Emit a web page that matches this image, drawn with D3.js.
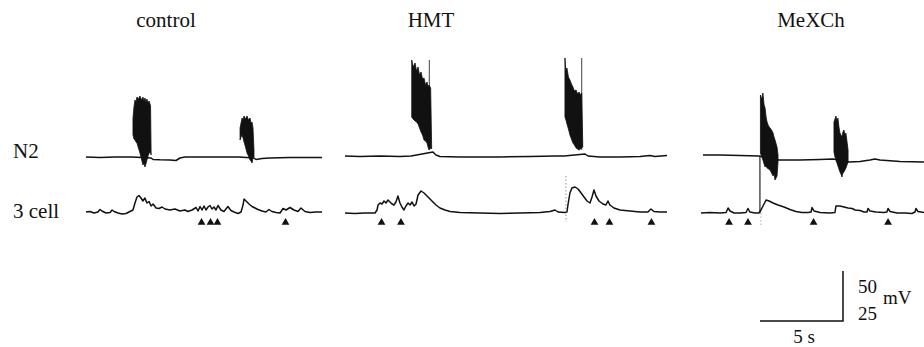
<!DOCTYPE html>
<html><head><meta charset="utf-8">
<script src="https://cdn.jsdelivr.net/npm/d3@7"></script>
<style>html,body{margin:0;padding:0;background:#fff;}svg{display:block;} text{font-family:"Liberation Serif","DejaVu Serif","Times New Roman",serif;}</style>
</head><body><svg id="c" width="924" height="347"></svg>
<script>
// ---------- DATA (time in s, voltage in mV relative to row baseline) ----------
const conditions = ["control", "HMT", "MeXCh"];
const rowLabels = ["N2", "3 cell"];
const scaleBarSeconds = 5;
const scaleBarMV = ["50", "25"];   // N2 , 3 cell

// N2 traces [t, mV]
const n2Control = [[0,0],[0.84,-0.5],[1.75,0],[2.77,0],[3.92,-1],[4.04,-2.5],[4.46,-2.8],[5.06,-3],[5.42,-3.5],[5.66,-1],[5.96,0],[6.87,0],[8.07,0],[9.22,0],[10.12,-1],[10.24,-2.5],[10.60,-1.5],[11.08,-1],[12.29,-0.5],[14.22,-0.5]];
const n2HMT = [[0,1],[0.90,0.5],[2.11,1],[3.31,0.5],[3.98,1],[5.30,5],[5.48,2],[5.72,0.5],[6.93,0],[9.34,0],[11.14,0.5],[12.65,1],[13.19,1],[14.46,3],[14.64,1],[15.36,0],[16.57,0],[17.77,0.5],[18.37,1.5],[18.67,0.5],[19.40,1.5]];
const n2MeXCh = [[0.12,2],[1.14,2],[2.35,1.5],[3.49,1],[4.70,-3],[5.96,-3],[7.17,-2.5],[7.95,-2],[8.92,-5],[9.58,-4.5],[10.18,-3],[10.48,-2],[10.78,-3],[11.99,-4.5],[13.43,-5]];

// N2 bursts: [t, upper envelope mV, lower envelope mV]
const burstControl1 = [[2.83,39,22],[2.89,50,18],[2.95,57,17],[3.01,55,15],[3.07,60,14],[3.16,58,9],[3.25,61,4],[3.34,57,-2],[3.43,60,-8],[3.49,56,-6],[3.55,59,-10],[3.61,55,-7],[3.67,58,-3],[3.74,54,1],[3.80,56,4],[3.89,51,5],[3.92,7,2]];
const burstControl2 = [[9.28,29,17],[9.34,34,20],[9.40,39,22],[9.46,37,19],[9.52,41,15],[9.61,38,10],[9.70,41,4],[9.79,37,1],[9.88,39,-3],[9.94,34,-4],[10.00,35,-6],[10.06,29,-1],[10.12,7,0]];
const burstHMT1 = [[4.02,97,40],[4.10,90,38],[4.22,94,36],[4.31,86,35],[4.40,90,33],[4.49,82,29],[4.58,85,25],[4.67,78,22],[4.76,79,17],[4.85,72,16],[4.94,75,14],[5.00,70,10],[5.06,72,7],[5.16,69,9],[5.22,10,8]];
const burstHMT2 = [[13.25,99,40],[13.31,86,37],[13.37,89,33],[13.46,80,28],[13.55,77,22],[13.64,73,18],[13.73,70,14],[13.82,66,12],[13.92,67,9],[14.01,63,8],[14.10,65,7],[14.18,62,8],[14.26,64,9],[14.32,14,10]];
const burstMeXCh1 = [[3.58,62,4],[3.66,58,0],[3.73,64,-3],[3.80,52,-7],[3.86,49,-10],[3.92,40,-9],[3.98,35,-11],[4.07,31,-12],[4.16,29,-13],[4.25,27,-16],[4.34,24,-19],[4.40,20,-17],[4.46,17,-23],[4.58,10,-19],[4.64,2,-5]];
const burstMeXCh2 = [[8.01,35,5],[8.07,38,0],[8.13,41,-3],[8.19,36,-6],[8.25,39,-9],[8.31,30,-12],[8.37,24,-15],[8.43,22,-17],[8.49,20,-20],[8.55,25,-16],[8.61,27,-15],[8.67,22,-13],[8.73,24,-11],[8.86,7,-5]];
// single tall spikes at burst ends [t, from mV, to mV]
const spikesHMT = [[5.08,97,10],[14.26,99,7]];

// 3 cell traces [t, mV]
const cellControl = [[0,0.5],[0.24,0.75],[0.48,0],[0.72,0.5],[0.84,1.75],[0.96,1],[1.20,0],[1.45,0.25],[1.57,1.5],[1.69,0.75],[1.93,0],[2.17,-0.5],[2.41,-0.25],[2.65,0.75],[2.83,1.5],[2.95,5],[3.07,8],[3.19,8.75],[3.31,7.5],[3.43,6],[3.55,7.5],[3.67,5],[3.80,5.75],[3.92,3.5],[4.04,4.5],[4.22,2.5],[4.40,2.25],[4.58,3],[4.76,2],[5.06,1.5],[5.36,2],[5.66,1],[5.96,1.5],[6.14,0.75],[6.39,1.5],[6.63,2.75],[6.75,1],[6.87,3.25],[6.99,1.5],[7.11,3.5],[7.23,1.5],[7.35,3],[7.47,3.75],[7.59,2],[7.71,3],[7.83,1.5],[7.95,3.75],[8.13,1.5],[8.31,0.75],[8.43,2],[8.55,3.25],[8.73,1.25],[8.92,0.5],[9.16,-0.25],[9.34,0.5],[9.46,4],[9.52,7],[9.64,6],[9.82,4.5],[10.00,3.25],[10.18,2.5],[10.36,1.75],[10.60,1],[10.84,0.5],[11.02,1.75],[11.20,0.75],[11.45,0.25],[11.69,0],[11.87,2.25],[12.05,1.5],[12.29,2.75],[12.53,1.5],[12.77,0.75],[12.95,2.5],[13.19,0.75],[13.49,0.25],[13.86,0.5],[14.22,0.5]];
const cellHMT = [[0,0],[0.60,-0.25],[1.20,0],[1.81,0],[1.93,1.5],[1.99,4],[2.11,5],[2.23,4.5],[2.35,6],[2.47,5],[2.59,6.5],[2.71,5.5],[2.83,4.5],[2.95,4],[3.07,5.5],[3.19,8.5],[3.31,5],[3.43,3],[3.55,1.5],[3.67,3.5],[3.80,5],[3.92,4],[4.04,5.5],[4.16,3.5],[4.28,4.5],[4.40,9],[4.58,11],[4.76,10],[5.00,8],[5.24,6],[5.48,4],[5.72,2.5],[6.02,1.5],[6.33,0.75],[6.93,0.25],[8.13,0],[9.34,-0.25],[10.54,0],[11.75,0.25],[12.35,0.75],[12.65,1.5],[12.83,0.5],[13.25,0.25],[13.37,0.5],[13.43,4],[13.55,10],[13.67,12.5],[13.86,13],[14.04,12],[14.22,10],[14.40,8],[14.58,6],[14.76,5],[14.88,8],[15.00,11.5],[15.12,8.5],[15.30,6],[15.54,4.5],[15.72,4],[15.84,6],[15.96,4],[16.20,2.5],[16.57,1.5],[17.17,1],[17.77,0.5],[18.25,0.5],[18.43,2],[18.61,0.75],[18.98,0.5],[19.40,0.5]];
const cellMeXCh = [[0,0],[0.54,0.25],[1.14,0],[1.51,0.25],[1.63,2.5],[1.75,1],[1.99,0],[2.35,0],[2.71,0.25],[2.83,2.25],[2.95,0.5],[3.25,0],[3.49,0],[3.61,1.5],[3.80,4.5],[3.92,6.5],[4.10,6],[4.34,5],[4.64,4],[5.00,3],[5.36,1.75],[5.72,0.75],[6.08,0.25],[6.45,0.25],[6.63,0.5],[6.69,2.75],[6.81,1],[7.17,0.25],[7.77,0],[8.07,0.25],[8.13,3.5],[8.37,3.5],[8.61,3],[8.86,2.5],[9.10,2.25],[9.28,1.5],[9.58,1.25],[9.82,0.5],[10.00,0.5],[10.06,2.25],[10.18,1],[10.54,0.5],[11.02,0.25],[11.20,0.5],[11.27,2.25],[11.39,0.75],[11.81,0],[12.29,0],[12.71,-0.25],[12.89,0.5],[12.95,2.25],[13.07,0.75],[13.43,0.25]];

// arrowheads (times of marked 3-cell events, s)
const arrowsControl = [6.96, 7.50, 7.92, 12.02];
const arrowsHMT = [2.20, 3.37, 15.03, 15.93, 18.46];
const arrowsMeXCh = [1.69, 2.83, 6.78, 11.27];

// stimulus artefacts
const artefactMeXCh = [3.55];          // N2 -> 3 cell vertical line
const dottedHMT = [[13.31, 18.5, -4.5]]; // 3 cell row, dotted

// ---------- LAYOUT ----------
const pxPerSec = 16.6;
const panels = [
  {name: conditions[0], x0: 86,  dur: 14.22, n2: n2Control, cell: cellControl, bursts: [burstControl1, burstControl2], spikes: [], arrows: arrowsControl, titleX: 166},
  {name: conditions[1], x0: 345, dur: 19.40, n2: n2HMT, cell: cellHMT, bursts: [burstHMT1, burstHMT2], spikes: spikesHMT, arrows: arrowsHMT, titleX: 431},
  {name: conditions[2], x0: 701, dur: 13.43, n2: n2MeXCh, cell: cellMeXCh, bursts: [burstMeXCh1, burstMeXCh2], spikes: [], arrows: arrowsMeXCh, titleX: 811}
];
const n2Y = d3.scaleLinear().domain([0, 50]).range([157, 107]);
const cellY = d3.scaleLinear().domain([0, 25]).range([213, 163]);

const svg = d3.select("#c");
const ink = "#111";

panels.forEach((p, i) => {
  const x = d3.scaleLinear().domain([0, p.dur]).range([p.x0, p.x0 + p.dur * pxPerSec]);
  const g = svg.append("g");
  g.append("text").attr("x", p.titleX).attr("y", 27).attr("text-anchor", "middle")
    .attr("font-size", 21).attr("fill", ink).text(p.name);

  const lineN2 = d3.line().x(d => x(d[0])).y(d => n2Y(d[1]));
  const lineCell = d3.line().x(d => x(d[0])).y(d => cellY(d[1]));
  const area = d3.area().x(d => x(d[0])).y0(d => n2Y(d[2])).y1(d => n2Y(d[1]));

  g.append("path").attr("d", lineN2(p.n2)).attr("fill", "none").attr("stroke", ink).attr("stroke-width", 1.5).attr("stroke-linejoin", "round");
  p.bursts.forEach(b => {
    g.append("path").attr("d", area(b)).attr("fill", ink).attr("stroke", ink).attr("stroke-width", 0.8);
  });
  p.spikes.forEach(s => {
    g.append("line").attr("x1", x(s[0])).attr("x2", x(s[0])).attr("y1", n2Y(s[1])).attr("y2", n2Y(s[2]))
      .attr("stroke", ink).attr("stroke-width", 0.8);
  });
  g.append("path").attr("d", lineCell(p.cell)).attr("fill", "none").attr("stroke", ink).attr("stroke-width", 1.5).attr("stroke-linejoin", "round");

  const tri = d3.symbol().type(d3.symbolTriangle).size(26);
  p.arrows.forEach(t => {
    g.append("path").attr("d", tri()).attr("transform", `translate(${x(t)},${cellY(0) + 9.5})`).attr("fill", ink);
  });

  if (i === 2) {
    artefactMeXCh.forEach(t => {
      g.append("line").attr("x1", x(t)).attr("x2", x(t)).attr("y1", n2Y(1)).attr("y2", cellY(0))
        .attr("stroke", ink).attr("stroke-width", 1.1);
      g.append("line").attr("x1", x(t) + 1).attr("x2", x(t) + 1).attr("y1", cellY(0)).attr("y2", cellY(-7))
        .attr("stroke", "#888").attr("stroke-width", 0.7).attr("stroke-dasharray", "1.5,2");
    });
  }
  if (i === 1) {
    dottedHMT.forEach(d => {
      g.append("line").attr("x1", x(d[0])).attr("x2", x(d[0])).attr("y1", cellY(d[1])).attr("y2", cellY(d[2]))
        .attr("stroke", "#777").attr("stroke-width", 0.8).attr("stroke-dasharray", "1.5,2");
    });
  }
});

// row labels
svg.append("text").attr("x", 13).attr("y", 158).attr("font-size", 21).attr("fill", ink).text(rowLabels[0]);
svg.append("text").attr("x", 13).attr("y", 218).attr("font-size", 21).attr("fill", ink).text(rowLabels[1]);

// scale bar
const sbX = d3.scaleLinear().domain([0, scaleBarSeconds]).range([760, 760 + scaleBarSeconds * pxPerSec]);
const sbY = d3.scaleLinear().domain([0, 50]).range([321, 271]);
const sb = svg.append("g");
sb.append("path").attr("d", `M${sbX(0)},${sbY(0)}H${sbX(scaleBarSeconds)}V${sbY(50)}`)
  .attr("fill", "none").attr("stroke", ink).attr("stroke-width", 1.5);
sb.append("text").attr("x", 804).attr("y", 343).attr("text-anchor", "middle")
  .attr("font-size", 19).attr("fill", ink).text(scaleBarSeconds + " s");
sb.append("text").attr("x", 858).attr("y", 293).attr("font-size", 19).attr("fill", ink).text(scaleBarMV[0]);
sb.append("text").attr("x", 858).attr("y", 320).attr("font-size", 19).attr("fill", ink).text(scaleBarMV[1]);
sb.append("text").attr("x", 883).attr("y", 304).attr("font-size", 19).attr("fill", ink).text("mV");
</script></body></html>
